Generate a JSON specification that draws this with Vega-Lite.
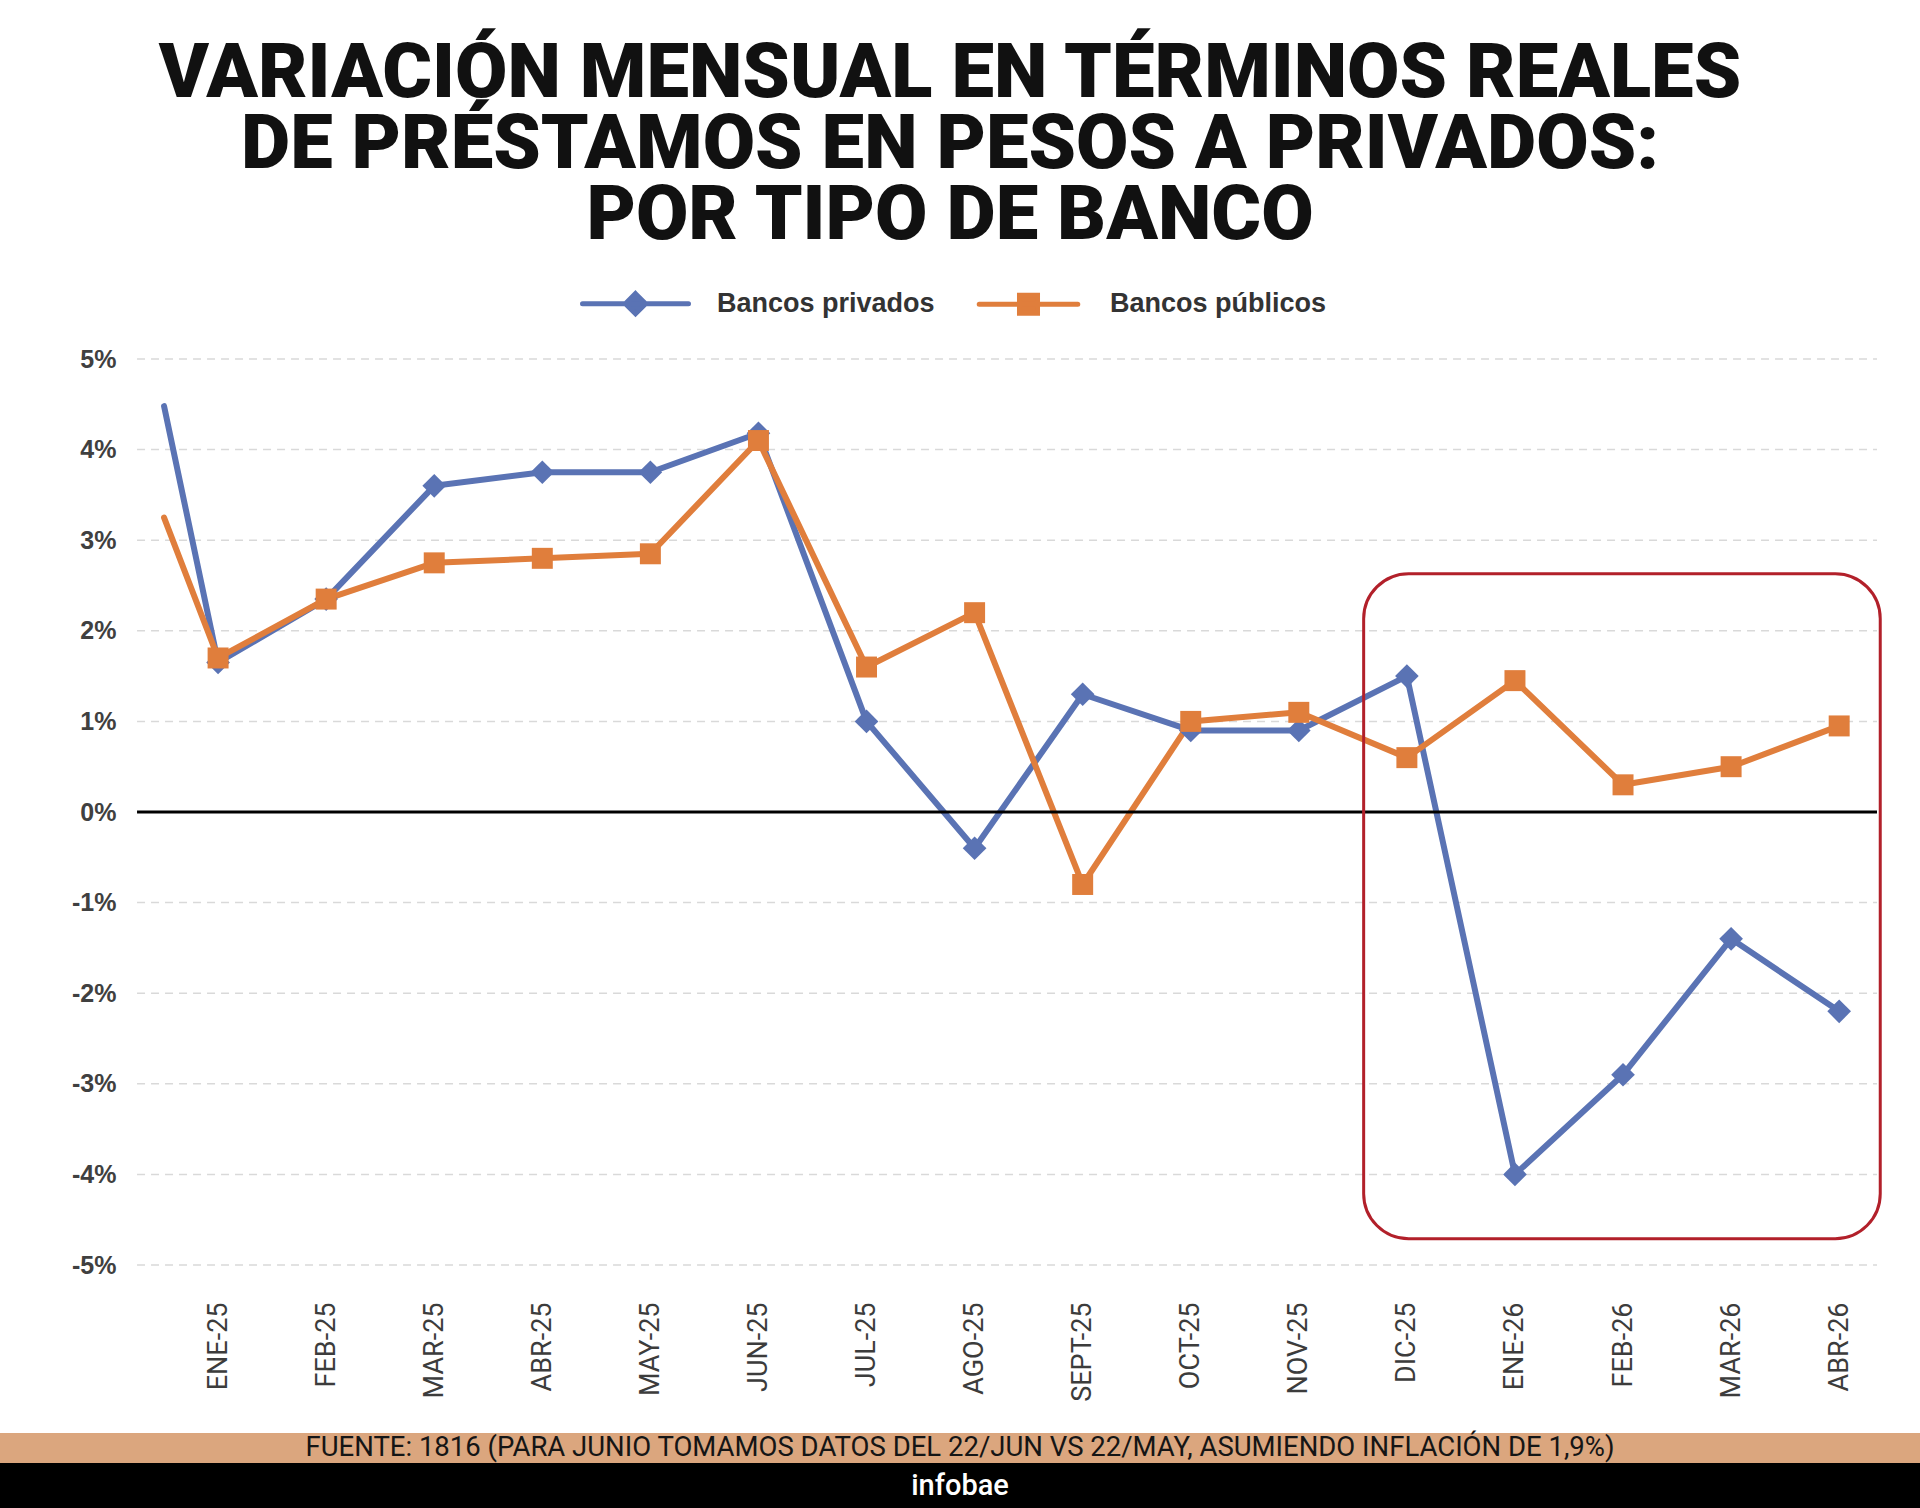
{
  "$schema": "https://vega.github.io/schema/vega-lite/v6.json",
  "padding": {"top": 36, "left": 0, "right": 0, "bottom": 0},
  "spacing": 0,
  "background": "white",
  "config": {"view": {"stroke": null}, "concat": {"spacing": 0}},
  "title": {
    "text": ["VARIACIÓN MENSUAL EN TÉRMINOS REALES", "DE PRÉSTAMOS EN PESOS A PRIVADOS:", "POR TIPO DE BANCO"],
    "font": "Roboto", "fontSize": 76, "fontWeight": 900, "color": "#111111",
    "lineHeight": 71, "anchor": "middle", "offset": -7, "dx": -10
  },
  "datasets": {
    "series": [
      {"m": -0.5, "s": "Bancos privados", "v": 4.48},
      {"m": 0, "s": "Bancos privados", "v": 1.65},
      {"m": 1, "s": "Bancos privados", "v": 2.35},
      {"m": 2, "s": "Bancos privados", "v": 3.6},
      {"m": 3, "s": "Bancos privados", "v": 3.75},
      {"m": 4, "s": "Bancos privados", "v": 3.75},
      {"m": 5, "s": "Bancos privados", "v": 4.18},
      {"m": 6, "s": "Bancos privados", "v": 1.0},
      {"m": 7, "s": "Bancos privados", "v": -0.4},
      {"m": 8, "s": "Bancos privados", "v": 1.3},
      {"m": 9, "s": "Bancos privados", "v": 0.9},
      {"m": 10, "s": "Bancos privados", "v": 0.9},
      {"m": 11, "s": "Bancos privados", "v": 1.5},
      {"m": 12, "s": "Bancos privados", "v": -4.0},
      {"m": 13, "s": "Bancos privados", "v": -2.9},
      {"m": 14, "s": "Bancos privados", "v": -1.4},
      {"m": 15, "s": "Bancos privados", "v": -2.2},
      {"m": -0.5, "s": "Bancos públicos", "v": 3.25},
      {"m": 0, "s": "Bancos públicos", "v": 1.7},
      {"m": 1, "s": "Bancos públicos", "v": 2.35},
      {"m": 2, "s": "Bancos públicos", "v": 2.75},
      {"m": 3, "s": "Bancos públicos", "v": 2.8},
      {"m": 4, "s": "Bancos públicos", "v": 2.85},
      {"m": 5, "s": "Bancos públicos", "v": 4.1},
      {"m": 6, "s": "Bancos públicos", "v": 1.6},
      {"m": 7, "s": "Bancos públicos", "v": 2.2},
      {"m": 8, "s": "Bancos públicos", "v": -0.8},
      {"m": 9, "s": "Bancos públicos", "v": 1.0},
      {"m": 10, "s": "Bancos públicos", "v": 1.1},
      {"m": 11, "s": "Bancos públicos", "v": 0.6},
      {"m": 12, "s": "Bancos públicos", "v": 1.45},
      {"m": 13, "s": "Bancos públicos", "v": 0.3},
      {"m": 14, "s": "Bancos públicos", "v": 0.5},
      {"m": 15, "s": "Bancos públicos", "v": 0.95}
    ],
    "grid": [{"v": -5}, {"v": -4}, {"v": -3}, {"v": -2}, {"v": -1}, {"v": 1}, {"v": 2}, {"v": 3}, {"v": 4}, {"v": 5}],
    "box": [{"m": 10.6, "m2": 15.38, "v": 2.63, "v2": -4.71}]
  },
  "vconcat": [
    {
      "width": 1877,
      "height": 906,
      "layer": [
        {
          "data": {"name": "grid"},
          "mark": {"type": "rule", "color": "#d9d9d9", "strokeWidth": 1.5, "strokeDash": [8, 6]},
          "encoding": {
            "x": {"datum": -0.75, "type": "quantitative", "scale": {"domain": [-2.018, 15.35], "nice": false, "zero": false}},
            "x2": {"datum": 15.35},
            "y": {"field": "v", "type": "quantitative", "scale": {"domain": [-5, 5], "nice": false, "zero": false}}
          }
        },
        {
          "data": {"name": "series"},
          "mark": {"type": "line", "strokeWidth": 6, "strokeJoin": "round", "strokeCap": "round"},
          "encoding": {
            "x": {
              "field": "m", "type": "quantitative",
              "scale": {"domain": [-2.018, 15.35], "nice": false, "zero": false},
              "axis": {
                "title": null, "values": [0, 1, 2, 3, 4, 5, 6, 7, 8, 9, 10, 11, 12, 13, 14, 15],
                "labelExpr": "['ENE-25','FEB-25','MAR-25','ABR-25','MAY-25','JUN-25','JUL-25','AGO-25','SEPT-25','OCT-25','NOV-25','DIC-25','ENE-26','FEB-26','MAR-26','ABR-26'][datum.value]",
                "labelAngle": 270, "labelAlign": "right", "labelBaseline": "middle",
                "labelFont": "Roboto", "labelFontSize": 27, "labelColor": "#3c3c3c", "labelPadding": 37,
                "domain": false, "ticks": false, "grid": false, "labelOverlap": false, "labelFlush": false,
                "minExtent": 168, "maxExtent": 168
              }
            },
            "y": {
              "field": "v", "type": "quantitative",
              "scale": {"domain": [-5, 5], "nice": false, "zero": false},
              "axis": {
                "title": null, "values": [-5, -4, -3, -2, -1, 0, 1, 2, 3, 4, 5],
                "labelExpr": "datum.value + '%'",
                "domain": false, "ticks": false, "grid": false, "offset": -137,
                "labelFont": "Liberation Sans", "labelFontWeight": "bold", "labelFontSize": 25,
                "labelColor": "#404040", "labelPadding": 21
              }
            },
            "color": {
              "field": "s", "type": "nominal",
              "scale": {"domain": ["Bancos privados", "Bancos públicos"], "range": ["#5a73b4", "#e07e3c"]},
              "legend": {
                "orient": "none", "legendX": 580, "legendY": -111, "direction": "horizontal", "title": null,
                "symbolSize": 11236, "symbolType": "M-1,0L1,0", "symbolStrokeWidth": 5,
                "labelFont": "Liberation Sans", "labelFontWeight": "bold", "labelFontSize": 27, "labelColor": "#333333",
                "labelOffset": 26, "columnPadding": 34, "padding": 0, "labelLimit": 500,
                "encode": {
                  "symbols": {
                    "update": {
                      "shape": {"signal": "datum.value === 'Bancos privados' ? 'M-1,0L1,0M0,-0.19L0.19,0L0,0.19L-0.19,0Z' : 'M-0.93,0L0.93,0M-0.17,-0.17L0.17,-0.17L0.17,0.17L-0.17,0.17Z'"},
                      "fill": {"scale": "color", "field": "value"},
                      "stroke": {"scale": "color", "field": "value"},
                      "strokeWidth": {"value": 5},
                      "strokeCap": {"value": "round"},
                      "opacity": {"value": 1}
                    }
                  }
                }
              }
            }
          }
        },
        {
          "data": {"name": "series"},
          "transform": [{"filter": "datum.m >= 0 && datum.s === 'Bancos privados'"}],
          "mark": {"type": "point", "filled": true, "opacity": 1, "shape": "diamond", "size": 560, "color": "#5a73b4"},
          "encoding": {
            "x": {"field": "m", "type": "quantitative", "scale": {"domain": [-2.018, 15.35], "nice": false, "zero": false}},
            "y": {"field": "v", "type": "quantitative", "scale": {"domain": [-5, 5], "nice": false, "zero": false}}
          }
        },
        {
          "data": {"name": "series"},
          "transform": [{"filter": "datum.m >= 0 && datum.s === 'Bancos públicos'"}],
          "mark": {"type": "point", "filled": true, "opacity": 1, "shape": "square", "size": 440, "color": "#e07e3c"},
          "encoding": {
            "x": {"field": "m", "type": "quantitative", "scale": {"domain": [-2.018, 15.35], "nice": false, "zero": false}},
            "y": {"field": "v", "type": "quantitative", "scale": {"domain": [-5, 5], "nice": false, "zero": false}}
          }
        },
        {
          "data": {"values": [{"v": 0}]},
          "mark": {"type": "rule", "color": "#000000", "strokeWidth": 3},
          "encoding": {
            "x": {"datum": -0.75, "type": "quantitative", "scale": {"domain": [-2.018, 15.35], "nice": false, "zero": false}},
            "x2": {"datum": 15.35},
            "y": {"field": "v", "type": "quantitative", "scale": {"domain": [-5, 5], "nice": false, "zero": false}}
          }
        },
        {
          "data": {"name": "box"},
          "mark": {"type": "rect", "filled": false, "stroke": "#b2202a", "strokeWidth": 3, "cornerRadius": 45, "clip": false},
          "encoding": {
            "x": {"field": "m", "type": "quantitative", "scale": {"domain": [-2.018, 15.35], "nice": false, "zero": false}},
            "x2": {"field": "m2"},
            "y": {"field": "v", "type": "quantitative", "scale": {"domain": [-5, 5], "nice": false, "zero": false}},
            "y2": {"field": "v2"}
          }
        }
      ]
    },
    {
      "width": 1920,
      "height": 30,
      "view": {"fill": "#dba67e", "stroke": null},
      "data": {"values": [{"t": "FUENTE: 1816 (PARA JUNIO TOMAMOS DATOS DEL 22/JUN VS 22/MAY, ASUMIENDO INFLACIÓN DE 1,9%)"}]},
      "mark": {"type": "text", "font": "Roboto", "fontSize": 27.5, "color": "#151515", "baseline": "middle", "align": "center"},
      "encoding": {"text": {"field": "t", "type": "nominal"}}
    },
    {
      "width": 1920,
      "height": 45,
      "view": {"fill": "#000000", "stroke": null},
      "data": {"values": [{"t": "infobae"}]},
      "mark": {"type": "text", "font": "Roboto", "fontSize": 29, "fontWeight": 500, "color": "#ffffff", "baseline": "middle", "align": "center"},
      "encoding": {"text": {"field": "t", "type": "nominal"}}
    }
  ]
}
